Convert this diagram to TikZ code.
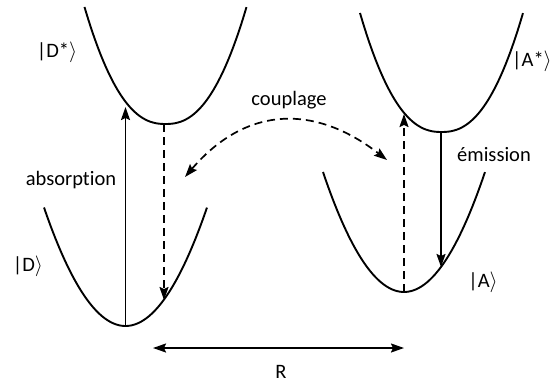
\documentclass[tikz,border=0pt]{standalone}
\usepackage{fontspec}
\setmainfont{Carlito}[Ligatures={NoCommon}]
\usetikzlibrary{arrows.meta}
\tikzset{
  well/.style={line width=1.9pt, black},
  conn/.style={line width=1.7pt, -{Stealth[length=13pt,width=9pt,inset=2pt]}},
  dconn/.style={conn, dash pattern=on 8pt off 5pt},
  lbl/.style={inner sep=0pt, font=\fontsize{20.5}{24}\selectfont},
}
\newcommand{\ket}[1]{|#1$\rangle$}
\begin{document}
\begin{tikzpicture}[x=1pt,y=-1pt]
\useasboundingbox (0,0) rectangle (553,385);
% potential wells
\draw[well] plot[domain=-1:1,samples=60,smooth] ({165.5+81*\x},{124-117*pow(0.00001+abs(\x),2.35)});
\draw[well] plot[domain=-1:1,samples=60,smooth] ({125.5+81.5*\x},{326-118.5*\x*\x});
\draw[well] plot[domain=-1:1,samples=60,smooth] ({441.5+81.5*\x},{132-119*pow(0.00001+abs(\x),2.35)});
\draw[well] plot[domain=-1:1,samples=60,smooth] ({404+81*\x},{292-120*\x*\x});
% points
\coordinate (Dv) at (125.5,326);
\coordinate (Dstar) at (125.5,107);
\coordinate (DSv) at (164,124);
\coordinate (Dhit) at (164,300);
\coordinate (Av) at (404,292);
\coordinate (Ahit) at (404,114);
\coordinate (ASv) at (441,132);
\coordinate (ASdown) at (441,267);
\coordinate (cL) at (185,177);
\coordinate (cR) at (387,160);
\coordinate (rL) at (153,348);
\coordinate (rR) at (404,348);
% transitions
\draw[conn] (Dv) -- (Dstar);
\draw[dconn] (DSv) -- (Dhit);
\draw[dconn] (Av) -- (Ahit);
\draw[conn] (ASv) -- (ASdown);
\draw[dconn, {Stealth[length=13pt,width=9pt,inset=2pt]}-{Stealth[length=13pt,width=9pt,inset=2pt]}]
  (cL) .. controls (244,108) and (312,102) .. (cR);
\draw[conn, {Stealth[length=13pt,width=9pt,inset=2pt]}-{Stealth[length=13pt,width=9pt,inset=2pt]}] (rL) -- (rR);
% labels
\node[lbl] (lDs) at (57,52) {\ket{D*}};
\node[lbl] (lD) at (28,266) {\ket{D}};
\node[lbl, anchor=east] (lAs) at (552,61) {\ket{A*}};
\node[lbl] (lA) at (483,282) {\ket{A}};
\node[lbl] (labs) at (71,180) {absorption};
\node[lbl] (lcoup) at (289,100) {couplage};
\node[lbl] (lem) at (494,155) {émission};
\node[lbl] (lR) at (281,372) {R};
\end{tikzpicture}
\end{document}
